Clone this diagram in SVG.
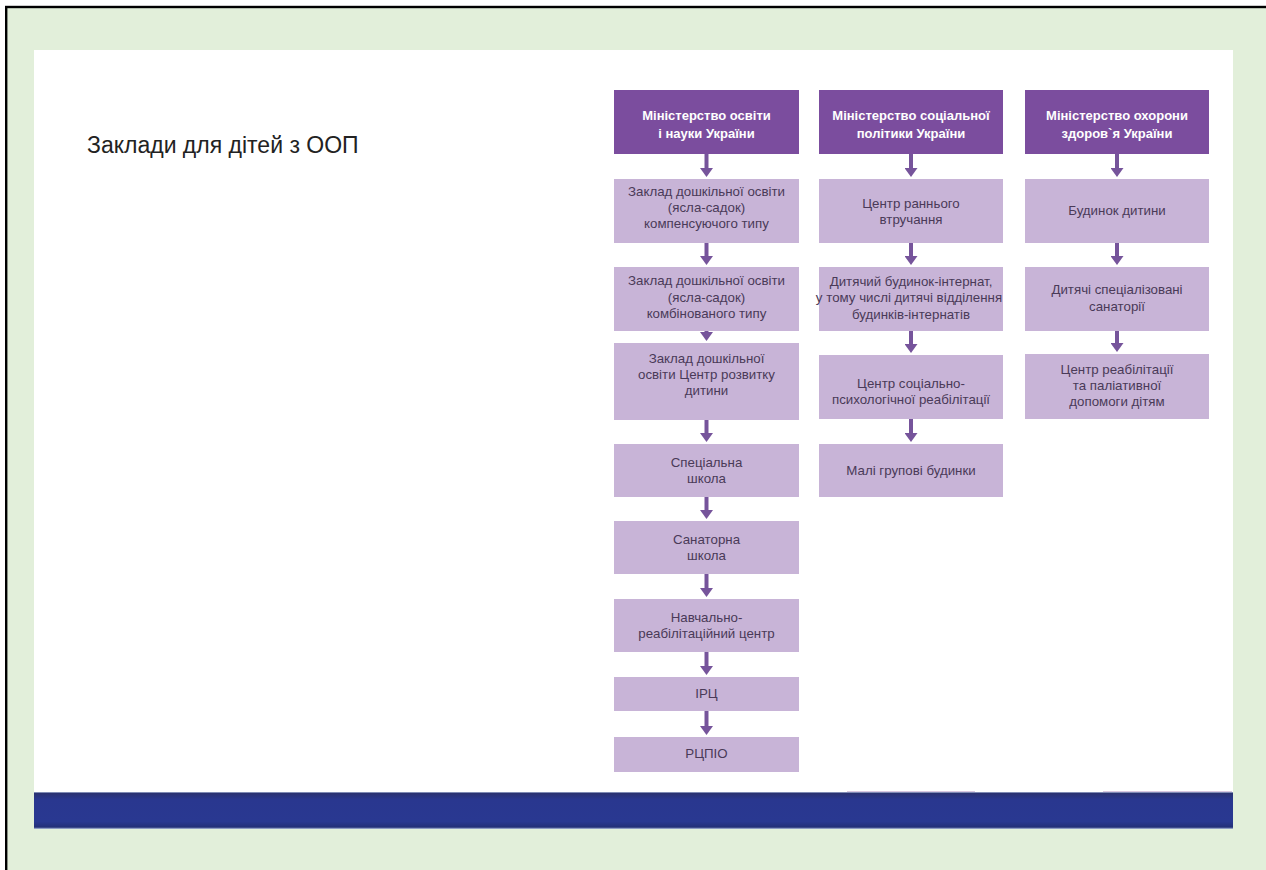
<svg xmlns="http://www.w3.org/2000/svg" width="1266" height="870" viewBox="0 0 1266 870">
<defs>
<style>
.hdr{fill:#7B4D9E}
.box{fill:#C8B4D7}
.ht{font-family:"Liberation Sans",Arial,sans-serif;font-size:13px;font-weight:bold;fill:#FFFFFF;text-anchor:middle}
.bt{font-family:"Liberation Sans",Arial,sans-serif;font-size:13.3px;fill:#4A3A58;text-anchor:middle}
.arr{stroke:#76549B;stroke-width:4;fill:none;marker-end:url(#ah)}
</style>
<marker id="ah" viewBox="0 0 9 13" markerWidth="9" markerHeight="13" refX="3" refY="6.5" markerUnits="userSpaceOnUse" orient="auto">
<path d="M0,0 L9,6.5 L0,13 z" fill="#76549B"/>
</marker>
<linearGradient id="bar" x1="0" y1="0" x2="0" y2="1">
<stop offset="0" stop-color="#A9B8D6"/>
<stop offset="0.04" stop-color="#2A3272"/>
<stop offset="0.2" stop-color="#29378F"/>
<stop offset="0.8" stop-color="#293891"/>
<stop offset="0.95" stop-color="#232F78"/>
<stop offset="1" stop-color="#B4C3DC"/>
</linearGradient>
</defs>
<rect x="0" y="0" width="1266" height="870" fill="#FFFFFF"/>
<rect x="6.2" y="7" width="1300" height="900" fill="#E2EFDA" stroke="#000000" stroke-width="2.4"/>
<rect x="34" y="50" width="1199" height="742" fill="#FFFFFF"/>
<rect x="34" y="792" width="1199" height="37" fill="url(#bar)"/>
<line x1="847" y1="791.5" x2="975" y2="791.5" stroke="#D9C8DF" stroke-width="1"/>
<line x1="1103" y1="791.5" x2="1232" y2="791.5" stroke="#D9C8DF" stroke-width="1"/>
<text x="87" y="153" font-family="Liberation Sans, Arial, sans-serif" font-size="23" fill="#222222">Заклади для дітей з ООП</text>

<g id="connectors">
<line class="arr" x1="706.5" y1="154" x2="706.5" y2="171"/>
<line class="arr" x1="706.5" y1="243" x2="706.5" y2="259"/>
<line class="arr" x1="706.5" y1="331" x2="706.5" y2="335"/>
<line class="arr" x1="706.5" y1="420" x2="706.5" y2="436"/>
<line class="arr" x1="706.5" y1="497" x2="706.5" y2="513"/>
<line class="arr" x1="706.5" y1="574" x2="706.5" y2="591"/>
<line class="arr" x1="706.5" y1="652" x2="706.5" y2="669"/>
<line class="arr" x1="706.5" y1="711" x2="706.5" y2="729"/>
<line class="arr" x1="911" y1="154" x2="911" y2="171"/>
<line class="arr" x1="911" y1="243" x2="911" y2="259"/>
<line class="arr" x1="911" y1="331" x2="911" y2="347"/>
<line class="arr" x1="911" y1="419" x2="911" y2="436"/>
<line class="arr" x1="1117" y1="154" x2="1117" y2="171"/>
<line class="arr" x1="1117" y1="243" x2="1117" y2="259"/>
<line class="arr" x1="1117" y1="331" x2="1117" y2="346"/>
</g>

<g id="h1"><rect class="hdr" x="614" y="90" width="185" height="64"/>
<text class="ht" x="706.5" y="120">Міністерство освіти</text><text class="ht" x="706.5" y="138">і науки України</text></g>
<g id="h2"><rect class="hdr" x="819" y="90" width="184" height="64"/>
<text class="ht" x="911" y="120">Міністерство соціальної</text><text class="ht" x="911" y="138">політики України</text></g>
<g id="h3"><rect class="hdr" x="1025" y="90" width="184" height="64"/>
<text class="ht" x="1117" y="120">Міністерство охорони</text><text class="ht" x="1117" y="138">здоров`я України</text></g>

<g id="c1b1"><rect class="box" x="614" y="179" width="185" height="64"/>
<text class="bt" x="706.5" y="196">Заклад дошкільної освіти</text><text class="bt" x="706.5" y="212">(ясла-садок)</text><text class="bt" x="706.5" y="228">компенсуючого типу</text></g>
<g id="c1b2"><rect class="box" x="614" y="267" width="185" height="64"/>
<text class="bt" x="706.5" y="285">Заклад дошкільної освіти</text><text class="bt" x="706.5" y="301.5">(ясла-садок)</text><text class="bt" x="706.5" y="318">комбінованого типу</text></g>
<g id="c1b3"><rect class="box" x="614" y="343" width="185" height="77"/>
<text class="bt" x="706.5" y="363">Заклад дошкільної</text><text class="bt" x="706.5" y="379">освіти Центр розвитку</text><text class="bt" x="706.5" y="395">дитини</text></g>
<g id="c1b4"><rect class="box" x="614" y="444" width="185" height="53"/>
<text class="bt" x="706.5" y="467">Спеціальна</text><text class="bt" x="706.5" y="483">школа</text></g>
<g id="c1b5"><rect class="box" x="614" y="521" width="185" height="53"/>
<text class="bt" x="706.5" y="543.5">Санаторна</text><text class="bt" x="706.5" y="560">школа</text></g>
<g id="c1b6"><rect class="box" x="614" y="599" width="185" height="53"/>
<text class="bt" x="706.5" y="622">Навчально-</text><text class="bt" x="706.5" y="638">реабілітаційний центр</text></g>
<g id="c1b7"><rect class="box" x="614" y="677" width="185" height="34"/>
<text class="bt" x="706.5" y="698">ІРЦ</text></g>
<g id="c1b8"><rect class="box" x="614" y="737" width="185" height="35"/>
<text class="bt" x="706.5" y="758">РЦПІО</text></g>

<g id="c2b1"><rect class="box" x="819" y="179" width="184" height="64"/>
<text class="bt" x="911" y="208">Центр раннього</text><text class="bt" x="911" y="224">втручання</text></g>
<g id="c2b2"><rect class="box" x="819" y="267" width="184" height="64"/>
<text class="bt" x="911" y="286">Дитячий будинок-інтернат,</text><text class="bt" x="909" y="302" font-size="13">у тому числі дитячі відділення</text><text class="bt" x="911" y="318.5">будинків-інтернатів</text></g>
<g id="c2b3"><rect class="box" x="819" y="355" width="184" height="64"/>
<text class="bt" x="911" y="388">Центр соціально-</text><text class="bt" x="911" y="404">психологічної реабілітації</text></g>
<g id="c2b4"><rect class="box" x="819" y="444" width="184" height="53"/>
<text class="bt" x="911" y="475">Малі групові будинки</text></g>

<g id="c3b1"><rect class="box" x="1025" y="179" width="184" height="64"/>
<text class="bt" x="1117" y="215">Будинок дитини</text></g>
<g id="c3b2"><rect class="box" x="1025" y="267" width="184" height="64"/>
<text class="bt" x="1117" y="294">Дитячі спеціалізовані</text><text class="bt" x="1117" y="310.5">санаторії</text></g>
<g id="c3b3"><rect class="box" x="1025" y="354" width="184" height="65"/>
<text class="bt" x="1117" y="374">Центр реабілітації</text><text class="bt" x="1117" y="390">та паліативної</text><text class="bt" x="1117" y="406">допомоги дітям</text></g>
</svg>
